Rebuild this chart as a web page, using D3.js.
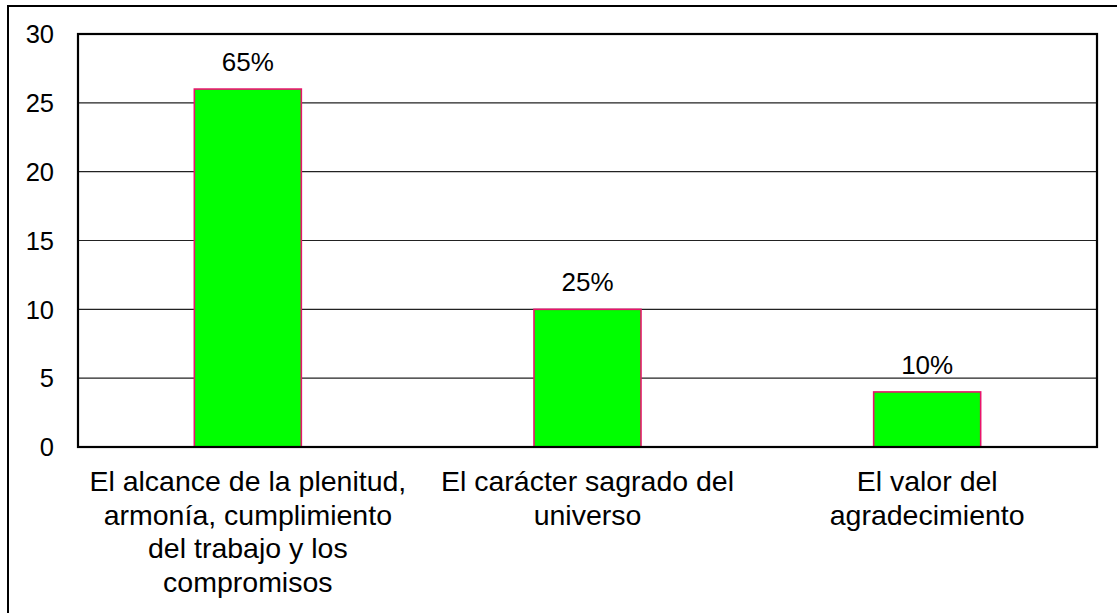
<!DOCTYPE html>
<html>
<head>
<meta charset="utf-8">
<script src="https://cdn.jsdelivr.net/npm/d3@7"></script>
<style>
  body { margin: 0; background: #fff; }
  svg { display: block; font-family: "Liberation Sans", Arial, sans-serif; }
</style>
</head>
<body>
<div id="chart"></div>
<script>
var width = 1117,
    height = 613;

// data
var categories = [
    "El alcance de la plenitud, armonía, cumplimiento del trabajo y los compromisos",
    "El carácter sagrado del universo",
    "El valor del agradecimiento"
];
var labelLines = [
    ["El alcance de la plenitud,", "armonía, cumplimiento", "del trabajo y los", "compromisos"],
    ["El carácter sagrado del", "universo"],
    ["El valor del", "agradecimiento"]
];
var values = [26, 10, 4];
var percents = ["65%", "25%", "10%"];
var yTicks = [0, 5, 10, 15, 20, 25, 30];

var plot = { left: 78, top: 34, right: 1097, bottom: 447 };

var svg = d3.select("#chart").append("svg")
    .attr("width", width)
    .attr("height", height);

// outer border of the chart object (runs off the right/bottom edge)
svg.append("rect")
    .attr("x", 8).attr("y", 6)
    .attr("width", width + 20).attr("height", height + 20)
    .attr("fill", "none")
    .attr("stroke", "#000")
    .attr("stroke-width", 2);

var x = d3.scaleBand()
    .domain(categories)
    .range([plot.left, plot.right])
    .paddingInner(0.685)
    .paddingOuter(0.3425);

var y = d3.scaleLinear()
    .domain([0, 30])
    .range([plot.bottom, plot.top]);

// gridlines
svg.append("g")
    .selectAll("line")
    .data(yTicks.filter(d => d > 0 && d < 30))
    .enter().append("line")
        .attr("x1", plot.left).attr("x2", plot.right)
        .attr("y1", d => y(d)).attr("y2", d => y(d))
        .attr("stroke", "#222")
        .attr("stroke-width", 1.2);

// y tick labels
svg.append("g")
    .selectAll("text")
    .data(yTicks)
    .enter().append("text")
        .attr("x", 54)
        .attr("y", d => y(d))
        .attr("dy", "0.36em")
        .attr("text-anchor", "end")
        .attr("font-size", 25.5)
        .attr("fill", "#000")
        .text(d => d);

// bars
svg.append("g")
    .selectAll("rect")
    .data(values)
    .enter().append("rect")
        .attr("x", (d, i) => x(categories[i]))
        .attr("y", d => y(d))
        .attr("width", x.bandwidth())
        .attr("height", d => y(0) - y(d))
        .attr("fill", "#00ff00")
        .attr("stroke", "#e8146c")
        .attr("stroke-width", 1.6);

// value labels
svg.append("g")
    .selectAll("text")
    .data(values)
    .enter().append("text")
        .attr("x", (d, i) => x(categories[i]) + x.bandwidth() / 2)
        .attr("y", d => y(d) - 18)
        .attr("text-anchor", "middle")
        .attr("font-size", 26)
        .attr("fill", "#000")
        .text((d, i) => percents[i]);

// plot frame
svg.append("rect")
    .attr("x", plot.left).attr("y", plot.top)
    .attr("width", plot.right - plot.left)
    .attr("height", plot.bottom - plot.top)
    .attr("fill", "none")
    .attr("stroke", "#000")
    .attr("stroke-width", 2.2);

// category labels
var cat = svg.append("g")
    .selectAll("text")
    .data(labelLines)
    .enter().append("text")
        .attr("text-anchor", "middle")
        .attr("font-size", 28.5)
        .attr("fill", "#000")
        .attr("transform", (d, i) =>
            "translate(" + (x(categories[i]) + x.bandwidth() / 2) + "," + 491 + ")");

cat.selectAll("tspan")
    .data(d => d)
    .enter().append("tspan")
        .attr("x", 0)
        .attr("y", (d, i) => i * 33.5)
        .text(d => d);
</script>
</body>
</html>
